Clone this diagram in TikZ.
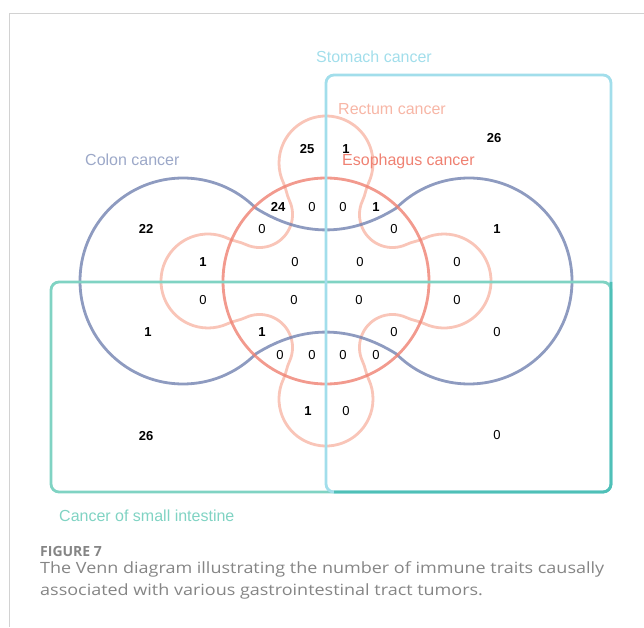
\documentclass[tikz,border=0pt]{standalone}
\usepackage{fontspec}
\setmainfont{Liberation Sans}
\newfontfamily\captionfont{Open Sans}
\newfontfamily\captionwide[FakeStretch=1.16]{Open Sans}
\usetikzlibrary{calc}

\definecolor{colonc}{HTML}{7282B0}
\definecolor{rectumc}{HTML}{F7B6A6}
\definecolor{esophc}{HTML}{EF8172}
\definecolor{stomachc}{HTML}{A2DEEB}
\definecolor{intestc}{HTML}{80D3C3}
\definecolor{overlapc}{HTML}{4FC0B7}
\definecolor{framec}{HTML}{D2D2D2}
\definecolor{captc}{HTML}{858585}

\tikzset{
  setline/.style={line width=2.8pt, draw opacity=0.8},
  boxline/.style={line width=2.8pt, rounded corners=8pt},
  setlabel/.style={anchor=base west, inner sep=0pt, font=\fontsize{16}{16}\selectfont},
  cnt/.style={font=\fontsize{13}{13}\selectfont},
  cntb/.style={font=\fontsize{13}{13}\selectfont\bfseries},
  captline/.style={anchor=base west, inner sep=0pt, captc, font=\captionwide\fontsize{15.5}{16}\selectfont}
}

\begin{document}
\begin{tikzpicture}[x=1pt,y=1pt]
	\useasboundingbox (0,0) rectangle (644,627);
	\draw[framec, line width=1pt] (644,613) -- (9,613) -- (9,0);

	\coordinate (colL) at (183,346); \coordinate (colR) at (469,346);
	\coordinate (eso) at (326,346);

	% rectum: four outer lobes, four inner lobes
	\draw[setline, rectumc] ($(eso)+(0,118)+(-25:47)$)
		\foreach \d in {90,180,270,360} {
			arc[start angle=\d-115, end angle=\d+115, radius=47]
			to[out=\d+205, in=\d+25] ($(eso)+(\d+45:94)+(\d-65:33)$)
			arc[start angle=\d-65, end angle=\d-205, radius=33]
			to[out=\d+65, in=\d-115] ($(eso)+(\d+90:118)+(\d-25:47)$)
		} -- cycle;

	% colon: two circles joined by two bends
	\draw[setline, colonc] ($(colL)+(45:103)$) arc[start angle=45, end angle=315, radius=103]
		to[out=32, in=148] ($(colR)+(225:103)$) arc[start angle=225, end angle=495, radius=103]
		to[out=-148, in=-32] ($(colL)+(45:103)$) -- cycle;

	\draw[setline, esophc] (eso) circle (103);

	\draw[boxline, intestc] (51,135) rectangle (611,345);
	\draw[boxline, stomachc] (326,135) rectangle (611,552);
	\draw[line width=2.8pt, overlapc] (611,345) -- (611,143) arc[start angle=0, end angle=-90, radius=8] -- (334,135);

	\node[setlabel, stomachc] (lstom) at (316,564) {Stomach cancer};
	\node[setlabel, rectumc] (lrect) at (338,512) {Rectum cancer};
	\node[setlabel, colonc!70] (lcol) at (85,461) {Colon cancer};
	\node[setlabel, esophc] (leso) at (342,461) {Esophagus cancer};
	\node[setlabel, intestc] (lint) at (59,106) {Cancer of small intestine};

	% counts, bold where not zero
	\foreach \x/\y/\t [count=\i] in {494/489/26, 307/478/25, 346/478/1, 278/420/24, 376/420/1,
		146/398/22, 497/398/1, 203/365/1, 148/295/1, 262/295/1, 308/216/1, 146/191/26}
		\node[cntb] (b\i) at (\x,\y) {\t};
	\foreach \x/\y [count=\i] in {312/420, 343/420, 262/398, 394/398, 295/365, 360/365, 457/365,
		203/327, 294/327, 359/327, 457/327, 394/295, 497/295,
		280/272, 312/272, 343/272, 376/272, 346/216, 497/192}
		\node[cnt] (z\i) at (\x,\y) {0};

	\node[anchor=base west, inner sep=0pt, captc, font=\captionfont\fontsize{14}{14}\selectfont\bfseries] (fig) at (40,71) {FIGURE 7};
	\node[captline] (cap1) at (40,54)
		{The Venn diagram illustrating the number of immune traits causally};
	\node[captline] (cap2) at (40,32)
		{associated with various gastrointestinal tract tumors.};
\end{tikzpicture}
\end{document}
